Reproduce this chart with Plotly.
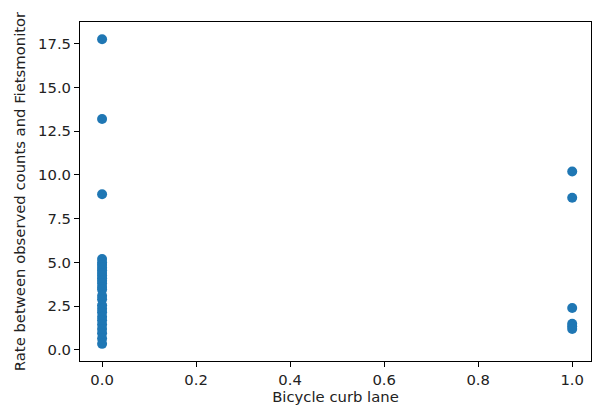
import plotly.graph_objects as go

# Data
x_zero = [0.0] * 27
y_zero = [17.75, 13.2, 8.9, 5.2, 5.0, 4.85, 4.7, 4.55, 4.4, 4.25, 4.1, 3.95, 3.8, 3.6, 3.45,
          3.1, 2.9, 2.55, 2.35, 2.15, 1.9, 1.7, 1.45, 1.2, 0.95, 0.65, 0.35]
x_one = [1.0] * 6
y_one = [10.2, 8.7, 2.4, 1.5, 1.35, 1.2]

xs = x_zero + x_one
ys = y_zero + y_one

x_ticks = [0.0, 0.2, 0.4, 0.6, 0.8, 1.0]
y_ticks = [0.0, 2.5, 5.0, 7.5, 10.0, 12.5, 15.0, 17.5]

FS = 14.8

fig = go.Figure(go.Scatter(
    x=xs, y=ys, mode="markers",
    marker=dict(color="#1f77b4", size=10, line=dict(width=0)),
))

axis_common = dict(
    showgrid=False, zeroline=False, showline=True, linecolor="black", linewidth=1,
    mirror=True, ticks="outside", ticklen=5, tickcolor="black", tickwidth=1,
    tickfont=dict(family="DejaVu Sans", size=FS, color="#222"),
)

fig.update_layout(
    width=592, height=414,
    margin=dict(l=80, r=1, t=22, b=53),
    paper_bgcolor="white", plot_bgcolor="white",
    showlegend=False,
    font=dict(family="DejaVu Sans", size=FS, color="#222"),
    xaxis=dict(range=[-0.047, 1.04], tickvals=x_ticks, ticktext=[f"{v:.1f}" for v in x_ticks],
               title=dict(text="Bicycle curb lane", standoff=4, font=dict(size=FS)), **axis_common),
    yaxis=dict(range=[-0.63, 18.74], tickvals=y_ticks, ticktext=[f"{v:.1f}" for v in y_ticks],
               title=dict(text="Rate between observed counts and Fietsmonitor", standoff=8, font=dict(size=FS)),
               **axis_common),
)

fig.write_html("out.html")
